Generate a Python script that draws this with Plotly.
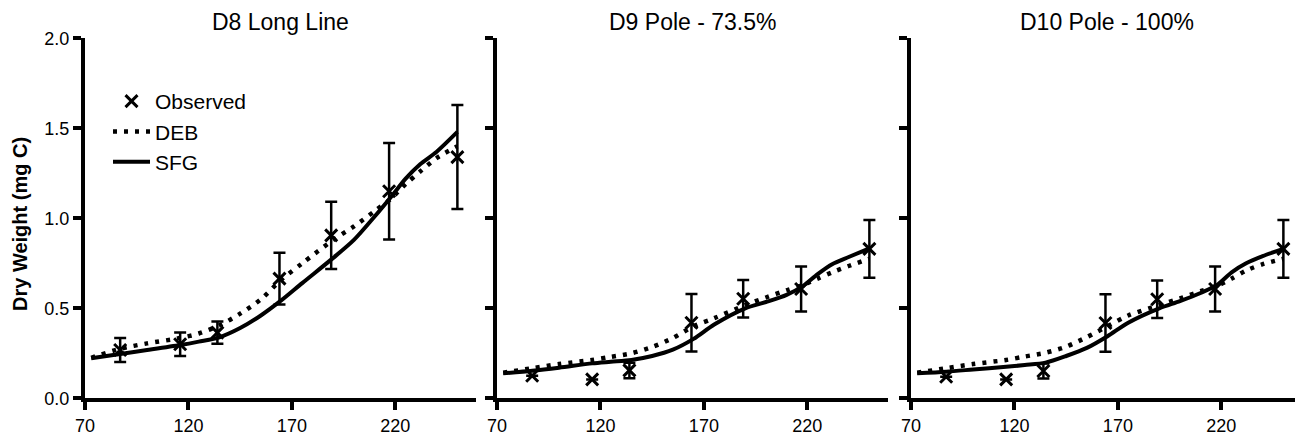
import plotly.graph_objects as go

# ---------------- data ----------------
panel_titles = ["D8 Long Line", "D9 Pole - 73.5%", "D10 Pole - 100%"]

obs_days = [87, 116, 134, 164, 189, 217, 250]

obs_d8 = [0.268, 0.300, 0.365, 0.665, 0.905, 1.150, 1.340]
err_d8 = [0.067, 0.065, 0.062, 0.144, 0.187, 0.268, 0.289]

obs_d9 = [0.125, 0.105, 0.155, 0.420, 0.553, 0.607, 0.830]
err_d9 = [0.0, 0.0, 0.043, 0.160, 0.104, 0.125, 0.160]

obs_d10 = [0.120, 0.105, 0.152, 0.418, 0.550, 0.607, 0.830]
err_d10 = [0.0, 0.0, 0.042, 0.160, 0.104, 0.125, 0.160]

model_days = [73, 87, 100, 116, 125, 135, 145, 155, 165, 175, 190, 200, 210, 218, 225, 232, 240, 250]

sfg_d8 = [0.222, 0.246, 0.268, 0.296, 0.315, 0.339, 0.390, 0.460, 0.545, 0.640, 0.780, 0.880,
          1.010, 1.120, 1.220, 1.300, 1.370, 1.480]
deb_d8 = [0.225, 0.275, 0.305, 0.335, 0.360, 0.405, 0.470, 0.550, 0.660, 0.750, 0.880, 0.955,
          1.040, 1.110, 1.190, 1.260, 1.335, 1.400]

sfg_d9 = [0.139, 0.153, 0.170, 0.194, 0.203, 0.213, 0.235, 0.270, 0.330, 0.410, 0.500, 0.535,
          0.575, 0.625, 0.690, 0.745, 0.785, 0.833]
deb_d9 = [0.142, 0.167, 0.190, 0.213, 0.230, 0.250, 0.285, 0.335, 0.400, 0.445, 0.518, 0.560,
          0.600, 0.630, 0.665, 0.700, 0.735, 0.775]

sfg_d10 = [0.139, 0.148, 0.160, 0.175, 0.185, 0.198, 0.235, 0.280, 0.345, 0.420, 0.500, 0.540,
           0.585, 0.630, 0.700, 0.750, 0.790, 0.830]
deb_d10 = [0.142, 0.167, 0.190, 0.213, 0.232, 0.253, 0.287, 0.340, 0.400, 0.460, 0.518, 0.555,
           0.595, 0.625, 0.665, 0.710, 0.745, 0.775]

x_ticks = [70, 120, 170, 220]
y_ticks = [0.0, 0.5, 1.0, 1.5, 2.0]
y_title = "Dry Weight (mg C)"
legend_names = ["Observed", "DEB", "SFG"]

panels = [
    (obs_d8, err_d8, deb_d8, sfg_d8),
    (obs_d9, err_d9, deb_d9, sfg_d9),
    (obs_d10, err_d10, deb_d10, sfg_d10),
]

# ---------------- layout geometry (page pixels; page body has an 8px margin) ----------------
OFF = 8
W, H = 1303 - OFF, 443 - OFF


def px_x(p):
    return (p - OFF) / W


def px_y(p):
    return (H - (p - OFF)) / H


x_dom_px = [(85, 476), (497, 888), (911, 1302)]
y_top_px, y_bot_px = 38.3, 398.3

FONT = "Liberation Sans, Arial, Helvetica, sans-serif"

fig = go.Figure()

for i, (obs, err, deb, sfg) in enumerate(panels):
    xa = "x" if i == 0 else f"x{i+1}"
    ya = "y" if i == 0 else f"y{i+1}"
    show = (i == 0)
    fig.add_trace(go.Scatter(
        x=obs_days, y=obs, mode="markers", name=legend_names[0],
        marker=dict(symbol="x-thin", size=12, color="black",
                    line=dict(width=3, color="black")),
        error_y=dict(type="data", array=err, visible=True, color="black",
                     thickness=2.5, width=6),
        xaxis=xa, yaxis=ya, showlegend=show,
    ))
    fig.add_trace(go.Scatter(
        x=model_days, y=deb, mode="lines", name=legend_names[1],
        line=dict(color="black", width=4.5, dash="4px,7px", shape="spline", smoothing=0.8),
        xaxis=xa, yaxis=ya, showlegend=show,
    ))
    fig.add_trace(go.Scatter(
        x=model_days, y=sfg, mode="lines", name=legend_names[2],
        line=dict(color="black", width=4, shape="spline", smoothing=0.8),
        xaxis=xa, yaxis=ya, showlegend=show,
    ))

layout = dict(
    template="none",
    width=W, height=H,
    margin=dict(l=0, r=0, t=0, b=0, pad=0),
    paper_bgcolor="white", plot_bgcolor="white",
    font=dict(family=FONT, color="black", size=18),
    showlegend=True,
    legend=dict(x=px_x(108), y=px_y(81), xanchor="left", yanchor="top",
                bgcolor="rgba(0,0,0,0)", borderwidth=0,
                font=dict(size=21, family=FONT, color="black"),
                traceorder="normal", itemwidth=37, tracegroupgap=0),
)

y_dom = [px_y(y_bot_px), px_y(y_top_px)]
annotations = []
for i in range(3):
    xkey = "xaxis" if i == 0 else f"xaxis{i+1}"
    ykey = "yaxis" if i == 0 else f"yaxis{i+1}"
    xa = "x" if i == 0 else f"x{i+1}"
    ya = "y" if i == 0 else f"y{i+1}"
    x0, x1 = x_dom_px[i]
    layout[xkey] = dict(
        domain=[px_x(x0), min(px_x(x1), 1.0)], range=[70, 259], anchor=ya, automargin=False,
        showline=True, linewidth=4, linecolor="black",
        ticks="outside", ticklen=8, tickwidth=4, tickcolor="black",
        tickvals=x_ticks, ticktext=[str(v) for v in x_ticks],
        showgrid=False, zeroline=False,
        tickfont=dict(size=18, family=FONT, color="black"),
    )
    layout[ykey] = dict(
        domain=y_dom, range=[0, 2], anchor=xa, automargin=False,
        showline=True, linewidth=4, linecolor="black",
        ticks="outside", ticklen=8, tickwidth=4, tickcolor="black",
        tickvals=y_ticks, ticktext=[f"{v:.1f}" for v in y_ticks],
        showticklabels=(i == 0),
        showgrid=False, zeroline=False,
        tickfont=dict(size=18, family=FONT, color="black"),
    )
    annotations.append(dict(
        text=panel_titles[i], xref="paper", yref="paper",
        x=px_x((x0 + x1) / 2), y=1.0, xanchor="center", yanchor="top",
        borderpad=0, showarrow=False, font=dict(size=23, family=FONT, color="black"),
    ))

annotations.append(dict(
    text=f"<b>{y_title}</b>", xref="paper", yref="paper",
    x=0.0, y=px_y(224), xanchor="left", yanchor="middle",
    textangle=-90, showarrow=False, borderpad=0,
    font=dict(size=20, family=FONT, color="black"),
))
layout["annotations"] = annotations

fig.update_layout(**layout)
fig.write_html("out.html")
